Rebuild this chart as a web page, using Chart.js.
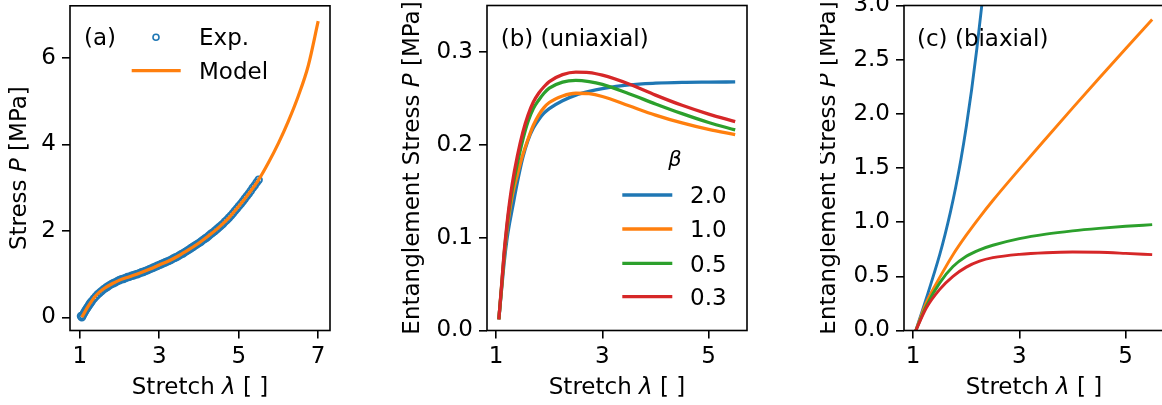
<!DOCTYPE html>
<html><head><meta charset="utf-8">
<script src="https://cdn.jsdelivr.net/npm/chart.js@4.4.0/dist/chart.umd.min.js"></script>
<style>
html,body{margin:0;padding:0;background:#fff;width:1162px;height:405px;overflow:hidden;position:relative}
canvas{position:absolute;top:0}
</style></head><body>
<canvas id="ca" width="345" height="405" style="left:0px"></canvas>
<canvas id="cb" width="360" height="405" style="left:400px"></canvas>
<canvas id="cc" width="360" height="405" style="left:820px"></canvas>
<script>
// ---------- Panel (a): experiment vs model ----------
const expStretch = [1.03,1.05,1.075,1.10,1.125,1.15,1.175,1.20,1.225,1.25,1.275,1.30,1.35,1.40,1.45,1.50,1.55,1.60,1.65,1.70,1.75,1.80,1.85,1.90,1.95,2.00,
  2.05,2.10,2.15,2.20,2.25,2.30,2.35,2.40,2.45,2.50,2.55,2.60,2.65,2.70,2.75,2.80,2.85,2.90,2.95,3.00,
  3.05,3.10,3.15,3.20,3.25,3.30,3.35,3.40,3.45,3.50,3.55,3.60,3.65,3.70,3.75,3.80,3.85,3.90,3.95,4.00,
  4.05,4.10,4.15,4.20,4.25,4.30,4.35,4.40,4.45,4.50,4.55,4.60,4.65,4.70,4.75,4.80,4.85,4.90,4.95,5.00,
  5.05,5.10,5.15,5.20,5.25,5.30,5.35,5.40,5.45,5.50];
const expStress = [0.03,0.00,0.045,0.09,0.13,0.17,0.205,0.24,0.275,0.31,0.34,0.37,0.43,0.48,0.53,0.57,0.61,0.65,0.68,0.71,0.74,0.77,0.79,0.81,0.84,0.86,
  0.88,0.89,0.91,0.93,0.94,0.96,0.97,0.99,1.00,1.02,1.04,1.05,1.07,1.09,1.11,1.13,1.15,1.17,1.19,1.21,
  1.23,1.25,1.27,1.29,1.31,1.33,1.36,1.38,1.40,1.43,1.46,1.48,1.51,1.54,1.57,1.60,1.63,1.66,1.69,1.72,
  1.75,1.79,1.82,1.85,1.89,1.93,1.96,2.00,2.04,2.08,2.12,2.16,2.21,2.25,2.30,2.35,2.40,2.46,2.51,2.57,
  2.62,2.68,2.74,2.80,2.86,2.92,2.99,3.05,3.12,3.18];
const modelStretch = [1.05,1.20,1.40,1.60,1.80,2.00,2.25,2.50,2.75,3.00,3.25,3.50,3.75,4.00,4.25,4.50,4.75,5.00,5.25,5.50,5.75,6.00,6.25,6.50,6.75,7.00];
const modelStress  = [0.00,0.24,0.50,0.66,0.77,0.86,0.94,1.02,1.11,1.21,1.31,1.43,1.57,1.72,1.89,2.08,2.30,2.57,2.86,3.18,3.58,4.03,4.54,5.12,5.82,6.85];
const ticksAx = [1,3,5,7];
const ticksAy = [0,2,4,6];
const labelsAx = ['1','3','5','7'];
const labelsAy = ['0','2','4','6'];

// ---------- Panel (b): uniaxial entanglement stress ----------
const betaLabels = ['2.0','1.0','0.5','0.3'];
const stretchB = [1.05,1.10,1.15,1.20,1.25,1.30,1.40,1.50,1.60,1.70,1.80,1.90,2.00,2.25,2.50,2.75,3.00,3.50,4.00,4.50,5.00,5.50];
const uniBeta20 = [0.012,0.043,0.073,0.097,0.115,0.130,0.160,0.186,0.205,0.218,0.227,0.234,0.239,0.2475,0.2535,0.2575,0.2605,0.2645,0.2663,0.2672,0.2675,0.2677];
const uniBeta10 = [0.012,0.045,0.079,0.106,0.127,0.144,0.168,0.189,0.206,0.221,0.232,0.240,0.2455,0.2525,0.2555,0.2550,0.2520,0.2420,0.2320,0.2235,0.2165,0.2110];
const uniBeta05 = [0.012,0.046,0.082,0.110,0.133,0.151,0.180,0.205,0.225,0.239,0.248,0.2555,0.261,0.2675,0.2693,0.2680,0.2650,0.2550,0.2440,0.2335,0.2240,0.2160];
const uniBeta03 = [0.012,0.047,0.084,0.113,0.137,0.157,0.188,0.213,0.232,0.246,0.2555,0.2625,0.268,0.2755,0.2782,0.2778,0.2750,0.2655,0.2535,0.2425,0.2330,0.2250];
const ticksBx = [1,3,5];
const ticksBy = [0,0.1,0.2,0.3];
const labelsBx = ['1','3','5'];
const labelsBy = ['0.0','0.1','0.2','0.3'];

// ---------- Panel (c): biaxial entanglement stress ----------
const stretchCBlue = [1.05,1.25,1.50,1.60,1.70,1.80,1.90,2.00,2.10,2.20,2.30,2.40];
const biaxBeta20 = [0.00,0.30,0.70,0.885,1.09,1.32,1.58,1.88,2.22,2.605,3.035,3.515];
const stretchC = [1.05,1.25,1.50,1.75,2.00,2.25,2.50,3.00,3.50,4.00,4.50,5.00,5.50];
const biaxBeta10 = [0.00,0.26,0.49,0.70,0.88,1.045,1.20,1.49,1.773,2.053,2.328,2.60,2.87];
const biaxBeta05 = [0.00,0.23,0.44,0.59,0.685,0.745,0.787,0.848,0.89,0.92,0.943,0.962,0.977];
const biaxBeta03 = [0.00,0.21,0.38,0.50,0.585,0.64,0.672,0.703,0.718,0.724,0.722,0.712,0.70];
const ticksCx = [1,3,5];
const ticksCy = [0,0.5,1,1.5,2,2.5,3];
const labelsCx = ['1','3','5'];
const labelsCy = ['0.0','0.5','1.0','1.5','2.0','2.5','3.0'];

// ---------- styling ----------
const BLUE='#1f77b4', ORANGE='#ff7f0e', GREEN='#2ca02c', RED='#d62728';
const FAM = '"DejaVu Sans", sans-serif';
const TICK_SIZE = 23, LABEL_SIZE = 23;
const H = 405;

function pts(xs, ys){ return xs.map((x,i)=>({x:x, y:ys[i]})); }

function drawRich(ctx, segs, x, y, align, size){
  const w = segs.map(s=>{ ctx.font=(s.i?'italic ':'')+size+'px '+FAM; return ctx.measureText(s.t).width; });
  const tot = w.reduce((a,b)=>a+b,0);
  let cx = align==='center' ? x - tot/2 : x;
  ctx.textBaseline='alphabetic'; ctx.textAlign='left';
  segs.forEach((s,k)=>{ ctx.font=(s.i?'italic ':'')+size+'px '+FAM; ctx.fillText(s.t, cx, y); cx += w[k]; });
}

const deco = {
  id:'deco',
  afterDraw(chart, args, o){
    const ctx = chart.ctx, a = chart.chartArea;
    ctx.save();
    ctx.strokeStyle='#000'; ctx.lineWidth=1.6;
    ctx.strokeRect(a.left, a.top, a.right-a.left, a.bottom-a.top);
    ctx.fillStyle='#000';
    drawRich(ctx, o.xTitle, (a.left+a.right)/2, o.xTitleY, 'center', LABEL_SIZE);
    ctx.save(); ctx.translate(o.yTitleX, (a.top+a.bottom)/2); ctx.rotate(-Math.PI/2);
    drawRich(ctx, o.yTitle, 0, 0, 'center', LABEL_SIZE); ctx.restore();
    drawRich(ctx, [{t:o.tag}], o.tagX, o.tagY, 'left', LABEL_SIZE);
    if (o.legend) o.legend(ctx, chart);
    ctx.restore();
  }
};

function scaleX(min,max,ticks,labels,g){
  return {type:'linear', min:min, max:max, position:'bottom',
    afterBuildTicks:s=>{ s.ticks = ticks.map(v=>({value:v})); },
    afterFit:s=>{ s.height = H - g.bottom; s.paddingLeft=0; s.paddingRight=0; s.paddingTop=0; s.paddingBottom=0; },
    ticks:{autoSkip:false, maxRotation:0, minRotation:0, color:'#000', padding:4.5,
      font:{family:FAM, size:TICK_SIZE},
      callback:(v)=>labels[ticks.findIndex(t=>Math.abs(t-v)<1e-9)]},
    grid:{drawOnChartArea:false, drawTicks:true, tickLength:8, color:'#000', lineWidth:1.6},
    border:{display:false}};
}
function scaleY(min,max,ticks,labels,g){
  return {type:'linear', min:min, max:max, position:'left',
    afterBuildTicks:s=>{ s.ticks = ticks.map(v=>({value:v})); },
    afterFit:s=>{ s.width = g.left; s.paddingLeft=0; s.paddingRight=0; s.paddingTop=0; s.paddingBottom=0; },
    ticks:{autoSkip:false, color:'#000', padding:6,
      font:{family:FAM, size:TICK_SIZE},
      callback:(v)=>labels[ticks.findIndex(t=>Math.abs(t-v)<1e-9)]},
    grid:{drawOnChartArea:false, drawTicks:true, tickLength:8, color:'#000', lineWidth:1.6},
    border:{display:false}};
}
function lineDs(label, xs, ys, color, w, order){
  return {label:label, data:pts(xs,ys), borderColor:color, backgroundColor:color, borderWidth:w,
    pointRadius:0, showLine:true, fill:false, cubicInterpolationMode:'monotone', clip:0, order:order};
}
function make(id, W, g, datasets, xs, ys, decoOpts){
  return new Chart(document.getElementById(id), {
    type:'scatter',
    data:{datasets:datasets},
    options:{responsive:false, animation:false, events:[],
      layout:{padding:{left:0, top:g.top, right:W-g.right, bottom:0}},
      scales:{x:xs, y:ys},
      plugins:{legend:{display:false}, tooltip:{enabled:false}, deco:decoOpts}},
    plugins:[deco]
  });
}

const xTitle = [{t:'Stretch '},{t:'λ',i:true},{t:' [ ]'}];

// Panel (a)
const gA = {left:70, right:330, top:5.5, bottom:330.5};
make('ca', 345, gA, [
  lineDs('Model', modelStretch, modelStress, ORANGE, 3.2, 0),
  {label:'Exp.', data:pts(expStretch, expStress), showLine:false, pointStyle:'circle', pointRadius:3.4,
   pointBorderWidth:1.8, pointBorderColor:BLUE, pointBackgroundColor:'rgba(0,0,0,0)', borderColor:BLUE, clip:0, order:1}
], scaleX(0.7525,7.2975,ticksAx,labelsAx,gA), scaleY(-0.305,7.206,ticksAy,labelsAy,gA), {
  xTitle:xTitle, xTitleY:394, yTitleX:26, yTitle:[{t:'Stress '},{t:'P',i:true},{t:' [MPa]'}],
  tag:'(a)', tagX:84, tagY:45,
  legend:(ctx, chart)=>{
    const ds = chart.data.datasets;
    ctx.strokeStyle = ds[1].pointBorderColor; ctx.lineWidth = 1.6;
    ctx.beginPath(); ctx.arc(156, 37.3, 3, 0, Math.PI*2); ctx.stroke();
    drawRich(ctx, [{t:ds[1].label}], 199, 45, 'left', LABEL_SIZE);
    ctx.strokeStyle = ds[0].borderColor; ctx.lineWidth = 3.2;
    ctx.beginPath(); ctx.moveTo(131.7, 70.7); ctx.lineTo(180.7, 70.7); ctx.stroke();
    drawRich(ctx, [{t:ds[0].label}], 199, 79, 'left', LABEL_SIZE);
  }
});

// Panel (b)
const gB = {left:87, right:347, top:5.5, bottom:330.5};
const uniSeries = [uniBeta20, uniBeta10, uniBeta05, uniBeta03];
const colorsB = [BLUE, ORANGE, GREEN, RED];
make('cb', 360, gB, uniSeries.map((s,i)=>lineDs(betaLabels[i], stretchB, s, colorsB[i], 3.3, 3-i)),
  scaleX(0.8275,5.7225,ticksBx,labelsBx,gB), scaleY(0,0.35,ticksBy,labelsBy,gB), {
  xTitle:xTitle, xTitleY:394, yTitleX:18.5, yTitle:[{t:'Entanglement Stress '},{t:'P',i:true},{t:' [MPa]'}],
  tag:'(b) (uniaxial)', tagX:100.7, tagY:45.5,
  legend:(ctx, chart)=>{
    const ds = chart.data.datasets;
    ctx.font = 'italic 21px '+FAM; ctx.textAlign='center'; ctx.textBaseline='alphabetic';
    ctx.fillText('β', 275, 166);
    const ys = [195, 229, 263.3, 296.7];
    ds.forEach((d,i)=>{
      ctx.strokeStyle = d.borderColor; ctx.lineWidth = 3.3;
      ctx.beginPath(); ctx.moveTo(222.3, ys[i]); ctx.lineTo(272.3, ys[i]); ctx.stroke();
      drawRich(ctx, [{t:d.label}], 290, ys[i]+8.4, 'left', LABEL_SIZE);
    });
  }
});

// Panel (c)
const gC = {left:84, right:344, top:5.5, bottom:330.5};
make('cc', 360, gC, [
  lineDs('2.0', stretchCBlue, biaxBeta20, BLUE, 2.9, 3),
  lineDs('1.0', stretchC, biaxBeta10, ORANGE, 2.9, 2),
  lineDs('0.5', stretchC, biaxBeta05, GREEN, 2.9, 1),
  lineDs('0.3', stretchC, biaxBeta03, RED, 2.9, 0)
], scaleX(0.8275,5.7225,ticksCx,labelsCx,gC), scaleY(0,3,ticksCy,labelsCy,gC), {
  xTitle:xTitle, xTitleY:394, yTitleX:15, yTitle:[{t:'Entanglement Stress '},{t:'P',i:true},{t:' [MPa]'}],
  tag:'(c) (biaxial)', tagX:97, tagY:45.5
});
</script>
</body></html>
